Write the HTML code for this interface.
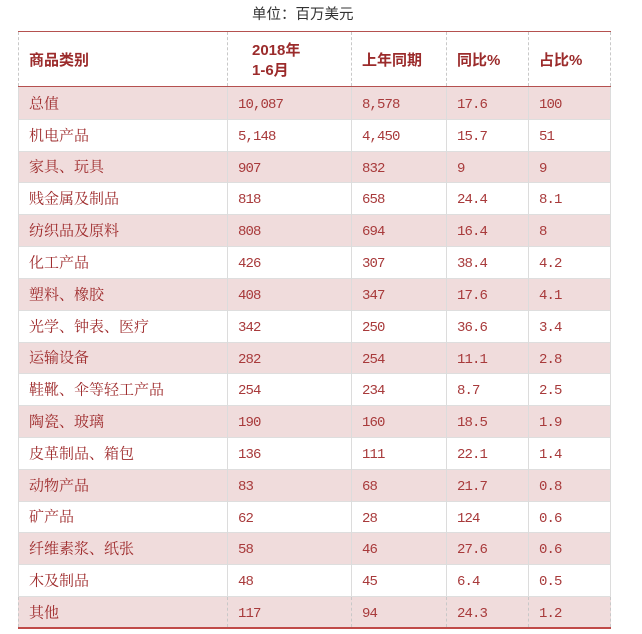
<!DOCTYPE html>
<html><head><meta charset="utf-8">
<style>
*{margin:0;padding:0;box-sizing:border-box}
html,body{width:642px;height:634px;background:#fff;overflow:hidden}
#c{position:relative;width:642px;height:634px}
.t{position:absolute;left:252px;top:3px;font:14.5px "Liberation Sans","Noto Sans CJK SC",sans-serif;color:#333;white-space:nowrap}
.row{position:absolute;left:18px;width:593px}
.pk{background:#f0dcdc}
.hl{position:absolute;left:18px;width:593px;height:1px;background:#dedede}
.cell{position:absolute;top:0;height:100%;display:flex;align-items:center;white-space:nowrap;color:#9e2a2b}
.lab{font:15px "Liberation Serif","Noto Serif CJK SC",serif;transform:translateY(-0.5px)}
.num{font:14px "Liberation Mono",monospace;letter-spacing:-0.9px;transform:translateY(2px);color:#a83a3b}
.hd{font:bold 15px "Liberation Sans","Noto Sans CJK SC",sans-serif;color:#9b2b2b}
.vl{position:absolute;width:1px}
.vs{background:#dcdcdc}
.vd{border-left:1px dashed #c8c8c8}
.red{position:absolute;left:18px;width:593px;background:#b5514f}
</style></head><body><div id="c">
<div class="t">单位：百万美元</div>

<div class="row" style="top:31px;height:56px">
  <div class="cell hd" style="left:11px">商品类别</div>
  <div class="cell hd" style="left:234px;line-height:20px;display:block;top:10px;height:auto">2018年<br>1-6月</div>
  <div class="cell hd" style="left:344px">上年同期</div>
  <div class="cell hd" style="left:439px">同比%</div>
  <div class="cell hd" style="left:521px">占比%</div>
</div>

<div class="row pk" style="top:87px;height:32px"><div class="cell lab" style="left:11px">总值</div><div class="cell num" style="left:220px">10,087</div><div class="cell num" style="left:344px">8,578</div><div class="cell num" style="left:439px">17.6</div><div class="cell num" style="left:521px">100</div></div>
<div class="row" style="top:119px;height:32px"><div class="cell lab" style="left:11px">机电产品</div><div class="cell num" style="left:220px">5,148</div><div class="cell num" style="left:344px">4,450</div><div class="cell num" style="left:439px">15.7</div><div class="cell num" style="left:521px">51</div></div>
<div class="row pk" style="top:151px;height:31px"><div class="cell lab" style="left:11px">家具、玩具</div><div class="cell num" style="left:220px">907</div><div class="cell num" style="left:344px">832</div><div class="cell num" style="left:439px">9</div><div class="cell num" style="left:521px">9</div></div>
<div class="row" style="top:182px;height:32px"><div class="cell lab" style="left:11px">贱金属及制品</div><div class="cell num" style="left:220px">818</div><div class="cell num" style="left:344px">658</div><div class="cell num" style="left:439px">24.4</div><div class="cell num" style="left:521px">8.1</div></div>
<div class="row pk" style="top:214px;height:32px"><div class="cell lab" style="left:11px">纺织品及原料</div><div class="cell num" style="left:220px">808</div><div class="cell num" style="left:344px">694</div><div class="cell num" style="left:439px">16.4</div><div class="cell num" style="left:521px">8</div></div>
<div class="row" style="top:246px;height:32px"><div class="cell lab" style="left:11px">化工产品</div><div class="cell num" style="left:220px">426</div><div class="cell num" style="left:344px">307</div><div class="cell num" style="left:439px">38.4</div><div class="cell num" style="left:521px">4.2</div></div>
<div class="row pk" style="top:278px;height:32px"><div class="cell lab" style="left:11px">塑料、橡胶</div><div class="cell num" style="left:220px">408</div><div class="cell num" style="left:344px">347</div><div class="cell num" style="left:439px">17.6</div><div class="cell num" style="left:521px">4.1</div></div>
<div class="row" style="top:310px;height:32px"><div class="cell lab" style="left:11px">光学、钟表、医疗</div><div class="cell num" style="left:220px">342</div><div class="cell num" style="left:344px">250</div><div class="cell num" style="left:439px">36.6</div><div class="cell num" style="left:521px">3.4</div></div>
<div class="row pk" style="top:342px;height:31px"><div class="cell lab" style="left:11px">运输设备</div><div class="cell num" style="left:220px">282</div><div class="cell num" style="left:344px">254</div><div class="cell num" style="left:439px">11.1</div><div class="cell num" style="left:521px">2.8</div></div>
<div class="row" style="top:373px;height:32px"><div class="cell lab" style="left:11px">鞋靴、伞等轻工产品</div><div class="cell num" style="left:220px">254</div><div class="cell num" style="left:344px">234</div><div class="cell num" style="left:439px">8.7</div><div class="cell num" style="left:521px">2.5</div></div>
<div class="row pk" style="top:405px;height:32px"><div class="cell lab" style="left:11px">陶瓷、玻璃</div><div class="cell num" style="left:220px">190</div><div class="cell num" style="left:344px">160</div><div class="cell num" style="left:439px">18.5</div><div class="cell num" style="left:521px">1.9</div></div>
<div class="row" style="top:437px;height:32px"><div class="cell lab" style="left:11px">皮革制品、箱包</div><div class="cell num" style="left:220px">136</div><div class="cell num" style="left:344px">111</div><div class="cell num" style="left:439px">22.1</div><div class="cell num" style="left:521px">1.4</div></div>
<div class="row pk" style="top:469px;height:32px"><div class="cell lab" style="left:11px">动物产品</div><div class="cell num" style="left:220px">83</div><div class="cell num" style="left:344px">68</div><div class="cell num" style="left:439px">21.7</div><div class="cell num" style="left:521px">0.8</div></div>
<div class="row" style="top:501px;height:31px"><div class="cell lab" style="left:11px">矿产品</div><div class="cell num" style="left:220px">62</div><div class="cell num" style="left:344px">28</div><div class="cell num" style="left:439px">124</div><div class="cell num" style="left:521px">0.6</div></div>
<div class="row pk" style="top:532px;height:32px"><div class="cell lab" style="left:11px">纤维素浆、纸张</div><div class="cell num" style="left:220px">58</div><div class="cell num" style="left:344px">46</div><div class="cell num" style="left:439px">27.6</div><div class="cell num" style="left:521px">0.6</div></div>
<div class="row" style="top:564px;height:32px"><div class="cell lab" style="left:11px">木及制品</div><div class="cell num" style="left:220px">48</div><div class="cell num" style="left:344px">45</div><div class="cell num" style="left:439px">6.4</div><div class="cell num" style="left:521px">0.5</div></div>
<div class="row pk" style="top:596px;height:32px"><div class="cell lab" style="left:11px">其他</div><div class="cell num" style="left:220px">117</div><div class="cell num" style="left:344px">94</div><div class="cell num" style="left:439px">24.3</div><div class="cell num" style="left:521px">1.2</div></div>

<div class="hl" style="top:119px"></div><div class="hl" style="top:151px"></div><div class="hl" style="top:182px"></div><div class="hl" style="top:214px"></div><div class="hl" style="top:246px"></div><div class="hl" style="top:278px"></div><div class="hl" style="top:310px"></div><div class="hl" style="top:342px"></div><div class="hl" style="top:373px"></div><div class="hl" style="top:405px"></div><div class="hl" style="top:437px"></div><div class="hl" style="top:469px"></div><div class="hl" style="top:501px"></div><div class="hl" style="top:532px"></div><div class="hl" style="top:564px"></div><div class="hl" style="top:596px"></div>

<div class="vl vd" style="left:18px;top:32px;height:54px"></div>
<div class="vl vd" style="left:227px;top:32px;height:54px"></div>
<div class="vl vd" style="left:351px;top:32px;height:54px"></div>
<div class="vl vd" style="left:446px;top:32px;height:54px"></div>
<div class="vl vd" style="left:528px;top:32px;height:54px"></div>
<div class="vl vd" style="left:610px;top:32px;height:54px"></div>
<div class="vl vs" style="left:18px;top:87px;height:509px"></div>
<div class="vl vs" style="left:227px;top:87px;height:509px"></div>
<div class="vl vs" style="left:351px;top:87px;height:509px"></div>
<div class="vl vs" style="left:446px;top:87px;height:509px"></div>
<div class="vl vs" style="left:528px;top:87px;height:509px"></div>
<div class="vl vs" style="left:610px;top:87px;height:509px"></div>
<div class="vl vd" style="left:18px;top:597px;height:30px"></div>
<div class="vl vd" style="left:227px;top:597px;height:30px"></div>
<div class="vl vd" style="left:351px;top:597px;height:30px"></div>
<div class="vl vd" style="left:446px;top:597px;height:30px"></div>
<div class="vl vd" style="left:528px;top:597px;height:30px"></div>
<div class="vl vd" style="left:610px;top:597px;height:30px"></div>

<div class="red" style="top:31px;height:1px"></div>
<div class="red" style="top:86px;height:1px"></div>
<div class="red" style="top:627px;height:2px;background:#c04a48"></div>
</div></body></html>
